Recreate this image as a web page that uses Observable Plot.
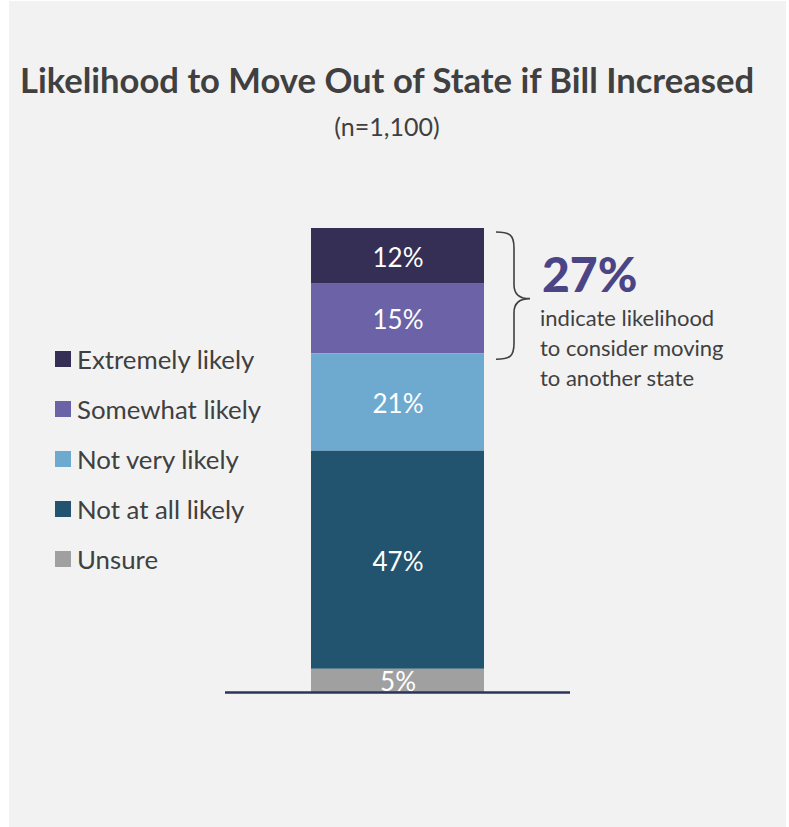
<!DOCTYPE html>
<html><head><meta charset="utf-8">
<script src="https://cdn.jsdelivr.net/npm/d3@7"></script>
<script src="https://cdn.jsdelivr.net/npm/@observablehq/plot@0.6"></script>
<style>
body{margin:0;background:#fff;font-family:Lato,"Open Sans",sans-serif;color:#404040}
#wrap{position:relative;width:789px;height:827px;overflow:hidden}
#panel{position:absolute;left:9px;top:1px;width:777px;height:826px;background:#f2f2f2}
#title{position:absolute;left:0;width:774px;top:59px;text-align:center;font-weight:700;font-size:34.6px;color:#404040;white-space:nowrap}
#sub{position:absolute;left:0;width:774px;top:111px;text-align:center;font-size:25px;color:#404040}
#legend{position:absolute;left:55px;top:334px}
#legend .row{display:flex;align-items:center;height:50px;font-size:25.8px;color:#404040;white-space:nowrap}
#legend .sw{width:16px;height:16px;margin-right:6px}
#chart{position:absolute;left:0;top:0}
#big{position:absolute;left:542px;top:250px;font-size:48px;font-weight:900;color:#4b4585;line-height:1}
#note{position:absolute;left:540px;top:303px;font-size:22px;line-height:30px;color:#404040}
</style></head>
<body>
<div id="wrap">
<div id="panel"></div>
<div id="chart"></div>
<div id="title"></div>
<div id="sub"></div>
<div id="legend"></div>
<div id="big"></div>
<div id="note"></div>
</div>
<script>
const titleText = "Likelihood to Move Out of State if Bill Increased";
const subtitleText = "(n=1,100)";
const categories = ["Extremely likely","Somewhat likely","Not very likely","Not at all likely","Unsure"];
const values = [12, 15, 21, 47, 5];
const palette = ["#352f55","#6b62a8","#6eaad0","#23546f","#a0a0a0"];
const highlightValue = 27;
const highlightLines = ["indicate likelihood","to consider moving","to another state"];

document.getElementById("title").textContent = titleText;
document.getElementById("sub").textContent = subtitleText;
document.getElementById("big").textContent = highlightValue + "%";
document.getElementById("note").innerHTML = highlightLines.map(s => `<div>${s}</div>`).join("");

const leg = document.getElementById("legend");
categories.forEach((c, i) => {
  const r = document.createElement("div"); r.className = "row";
  const s = document.createElement("div"); s.className = "sw"; s.style.background = palette[i];
  const t = document.createElement("span"); t.textContent = c;
  r.appendChild(s); r.appendChild(t); leg.appendChild(r);
});

const data = categories.map((c, i) => ({group: "All", category: c, value: values[i]}));
const order = categories.slice().reverse();

const plot = Plot.plot({
  width: 789, height: 827,
  marginTop: 228, marginBottom: 135, marginLeft: 225, marginRight: 219,
  style: {background: "transparent", overflow: "visible"},
  x: {domain: ["All"], padding: 0.332, axis: null},
  y: {domain: [0, 100], axis: null},
  color: {domain: categories, range: palette},
  marks: [
    Plot.barY(data, Plot.stackY({x: "group", y: "value", z: "category", fill: "category", order})),
    Plot.text(data, Plot.stackY({x: "group", y: "value", z: "category", order,
      text: d => d.value + "%", fill: "white", fontSize: 26, dy: 2,
      fontFamily: "Lato, 'Open Sans', sans-serif"})),
    Plot.ruleY([0], {stroke: "#2b355c", strokeWidth: 2.5})
  ]
});
document.getElementById("chart").appendChild(plot);

// curly brace over the "likely" segments
(function () {
  const ys = plot.scale("y"), xs = plot.scale("x");
  const yTop = ys.apply(100) + 4;
  const yBot = ys.apply(100 - highlightValue) + 6;
  const ym = (yTop + yBot) / 2 + 3;
  const x0 = xs.apply("All") + xs.bandwidth + 12;
  const xm = x0 + 18, xt = x0 + 34;
  const p = `M${x0},${yTop} C${x0+14},${yTop} ${xm},${yTop+3} ${xm},${yTop+16} L${xm},${ym-14} C${xm},${ym-4} ${xm+6},${ym} ${xt},${ym} C${xm+6},${ym} ${xm},${ym+4} ${xm},${ym+14} L${xm},${yBot-16} C${xm},${yBot-3} ${x0+14},${yBot} ${x0},${yBot}`;
  d3.select(plot).append("path").attr("d", p).attr("fill", "none").attr("stroke", "#404040").attr("stroke-width", 1.6);
})();
</script>
</body></html>
